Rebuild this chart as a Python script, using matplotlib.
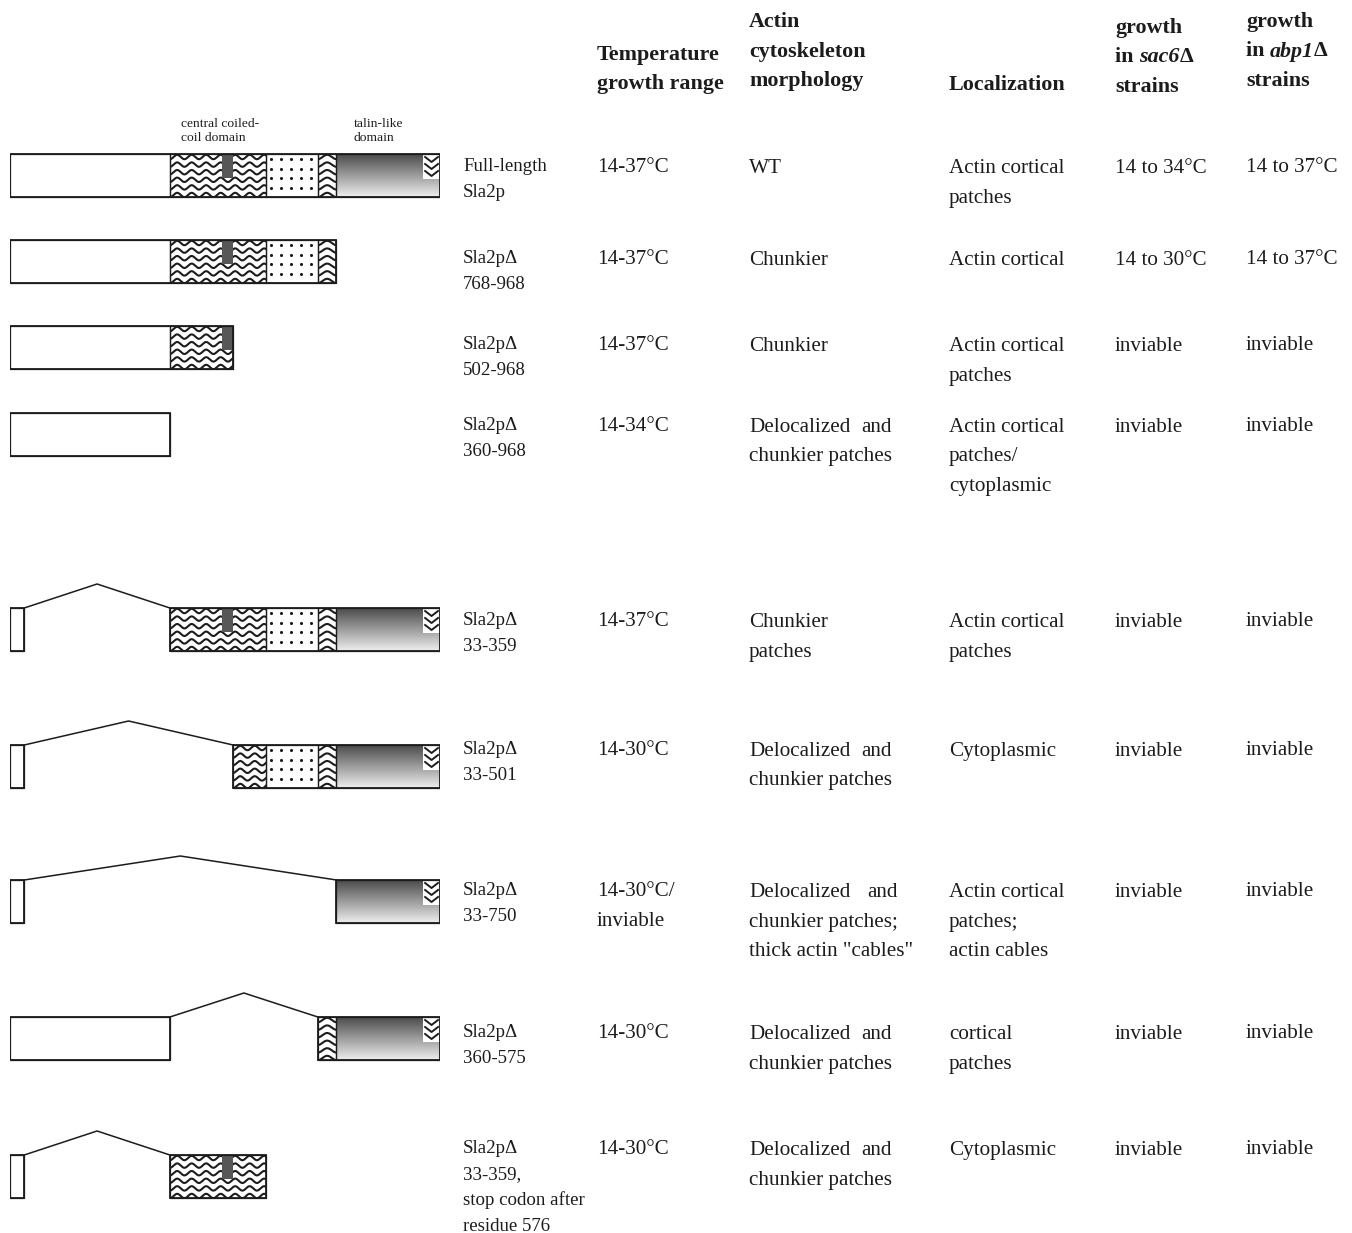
import numpy as np
import matplotlib.pyplot as plt
from matplotlib.patches import Rectangle

plt.rcParams['font.family'] = ['Liberation Serif', 'DejaVu Serif']

# Sla2p domain map, in residues
protein_length = 968
domain_starts = [0, 360, 576, 693, 735]
domain_ends = [360, 576, 693, 735, 968]
domain_kinds = ['plain', 'coil', 'dots', 'coil', 'talin']
stripe_span = [477, 502]
chevron_span = [930, 968]

# pieces kept in each construct (start, end residues as drawn)
kept_starts = [[0], [0], [0], [0], [0, 360], [0, 502], [0, 735], [0, 693], [0, 360]]
kept_ends = [[968], [735], [502], [360], [32, 968], [32, 968], [32, 968], [360, 968], [32, 576]]

construct_labels = [
    ['Full-length', 'Sla2p'],
    ['Sla2pΔ', '768-968'],
    ['Sla2pΔ', '502-968'],
    ['Sla2pΔ', '360-968'],
    ['Sla2pΔ', '33-359'],
    ['Sla2pΔ', '33-501'],
    ['Sla2pΔ', '33-750'],
    ['Sla2pΔ', '360-575'],
    ['Sla2pΔ', '33-359,', 'stop codon after', 'residue 576'],
]
temperature = [
    ['14-37°C'], ['14-37°C'], ['14-37°C'], ['14-34°C'], ['14-37°C'],
    ['14-30°C'], ['14-30°C/', 'inviable'], ['14-30°C'], ['14-30°C'],
]
morphology = [
    ['WT'],
    ['Chunkier'],
    ['Chunkier'],
    ['Delocalized and', 'chunkier patches'],
    ['Chunkier', 'patches'],
    ['Delocalized and', 'chunkier patches'],
    ['Delocalized and', 'chunkier patches;', 'thick actin "cables"'],
    ['Delocalized and', 'chunkier patches'],
    ['Delocalized and', 'chunkier patches'],
]
localization = [
    ['Actin cortical', 'patches'],
    ['Actin cortical'],
    ['Actin cortical', 'patches'],
    ['Actin cortical', 'patches/', 'cytoplasmic'],
    ['Actin cortical', 'patches'],
    ['Cytoplasmic'],
    ['Actin cortical', 'patches;', 'actin cables'],
    ['cortical', 'patches'],
    ['Cytoplasmic'],
]
growth_sac6 = ['14 to 34°C', '14 to 30°C', 'inviable', 'inviable', 'inviable',
               'inviable', 'inviable', 'inviable', 'inviable']
growth_abp1 = ['14 to 37°C', '14 to 37°C', 'inviable', 'inviable', 'inviable',
               'inviable', 'inviable', 'inviable', 'inviable']

# column headers: list of lines, each line a list of (text, style)
headers = [
    [[('Temperature', 'b')], [('growth range', 'b')]],
    [[('Actin', 'b')], [('cytoskeleton', 'b')], [('morphology', 'b')]],
    [[('Localization', 'b')]],
    [[('growth', 'b')], [('in ', 'b'), ('sac6', 'bi'), ('Δ', 'b')], [('strains', 'b')]],
    [[('growth', 'b')], [('in ', 'b'), ('abp1', 'bi'), ('Δ', 'b')], [('strains', 'b')]],
]

# layout (pixels)
W, H = 1352, 1233
diag_left, diag_width = 10, 430
row_top = [154, 240, 326, 413, 608, 745, 880, 1017, 1155]
box_h = 43
text_y = [165, 257, 343, 424, 619, 748, 889, 1031, 1147]
name_x = 463
col_x = [597, 749, 949, 1115, 1246]
header_top = [53, 20, 83, 26, 20]
line_step = 29.5
name_step = 26
ink = '#1c1c1c'

fig = plt.figure(figsize=(W / 100, H / 100), dpi=100)
ax = fig.add_axes([0, 0, 1, 1])
ax.set_xlim(0, W)
ax.set_ylim(H, 0)
ax.axis('off')

ax_d = fig.add_axes([diag_left / W, 0, diag_width / W, 1])
ax_d.set_xlim(0, protein_length)
ax_d.set_ylim(H, 0)
ax_d.axis('off')
rpp = protein_length / diag_width  # residues per pixel

gradient = np.linspace(0.30, 0.93, 60)[:, None] * np.ones((1, 8))


def draw_waves(a, b, top, clip, amp=2.2):
    width_px = (b - a) / rpp
    period = width_px if width_px < 25 else 14.5
    xs = np.linspace(a, b, 300)
    for yc in np.arange(top + 3, top + box_h + 5, 7.6):
        ys = yc + amp * np.cos(2 * np.pi * (xs - a) / (period * rpp))
        ln, = ax_d.plot(xs, ys, color=ink, lw=1.5, zorder=2)
        ln.set_clip_path(clip)


def draw_dots(a, b, top, clip):
    xs = np.arange(a + 5 * rpp, b, 10 * rpp)
    ys = np.arange(top + 5, top + box_h, 9.5)
    gx, gy = np.meshgrid(xs, ys)
    sc = ax_d.scatter(gx.ravel(), gy.ravel(), s=5, color=ink, zorder=2, linewidths=0)
    sc.set_clip_path(clip)


def draw_piece(start, end, top):
    for s, e, kind in zip(domain_starts, domain_ends, domain_kinds):
        a, b = max(s, start), min(e, end)
        if b <= a:
            continue
        clip = Rectangle((a, top), b - a, box_h, fc='white', ec='none', zorder=1)
        ax_d.add_patch(clip)
        if kind == 'coil':
            draw_waves(a, b, top, clip)
            sa, sb = max(stripe_span[0], a), min(stripe_span[1], b)
            if sb > sa:
                ax_d.add_patch(Rectangle((sa, top), sb - sa, box_h * 0.56,
                                         fc='#575757', ec='none', zorder=3))
        elif kind == 'dots':
            draw_dots(a, b, top, clip)
        elif kind == 'talin':
            im = ax_d.imshow(gradient, cmap='gray', vmin=0, vmax=1, aspect='auto',
                             extent=[a, b, top + box_h, top], origin='upper',
                             interpolation='bilinear', zorder=2)
            im.set_clip_path(clip)
            ca, cb = max(chevron_span[0], a), min(chevron_span[1], b)
            if cb > ca:
                ax_d.add_patch(Rectangle((ca, top + 1), cb - ca, 24, fc='white',
                                         ec='none', zorder=3))
                for k in range(3):
                    y0 = top + 3 + 7 * k
                    ax_d.plot([ca + 2 * rpp, (ca + cb) / 2, cb - 2 * rpp],
                              [y0, y0 + 5, y0], color=ink, lw=1.4, zorder=4)
        ax_d.add_patch(Rectangle((a, top), b - a, box_h, fill=False, ec=ink,
                                 lw=0.9, zorder=5))
    ax_d.add_patch(Rectangle((start, top), end - start, box_h, fill=False, ec=ink,
                             lw=1.3, zorder=6))


for i in range(len(kept_starts)):
    top = row_top[i]
    starts, ends = kept_starts[i], kept_ends[i]
    for s, e in zip(starts, ends):
        draw_piece(s, e, top)
    # splice line over each deleted stretch
    for e, s in zip(ends[:-1], starts[1:]):
        ax_d.plot([e, (e + s) / 2, s], [top, top - 24, top], color=ink, lw=1.1, zorder=6)
ax_d.set_xlim(0, protein_length)
ax_d.set_ylim(H, 0)

# domain captions above the full-length protein
ax.text(181, 131, 'central coiled-\ncoil domain', fontsize=9.7, color=ink,
        va='center', ha='left', linespacing=1.15)
ax.text(354, 131, 'talin-like\ndomain', fontsize=9.7, color=ink,
        va='center', ha='left', linespacing=1.15)

renderer = fig.canvas.get_renderer()
body_fs, name_fs, head_fs = 15.2, 13.6, 15.8

# headers
for x, top, lines in zip(col_x, header_top, headers):
    for j, pieces in enumerate(lines):
        cx = x
        for txt, style in pieces:
            t = ax.text(cx, top + j * line_step + 7, txt, fontsize=head_fs, color=ink,
                        fontweight='bold', fontstyle='italic' if 'i' in style else 'normal',
                        va='baseline', ha='left')
            bb = t.get_window_extent(renderer)
            cx += bb.width


def put_lines(x, y, lines, fs, step, justify=False):
    for j, line in enumerate(lines):
        yb = y + j * step + 7
        if justify and line.endswith(' and') and j + 1 < len(lines):
            probe = ax.text(x, yb, lines[j + 1], fontsize=fs, color=ink, va='baseline')
            width = probe.get_window_extent(renderer).width
            probe.remove()
            ax.text(x, yb, line[:-4], fontsize=fs, color=ink, va='baseline', ha='left')
            ax.text(x + width, yb, 'and', fontsize=fs, color=ink, va='baseline', ha='right')
        else:
            ax.text(x, yb, line, fontsize=fs, color=ink, va='baseline', ha='left')


for i in range(len(construct_labels)):
    y = text_y[i]
    put_lines(name_x, y - 1, construct_labels[i], name_fs, name_step)
    put_lines(col_x[0], y, temperature[i], body_fs, line_step)
    put_lines(col_x[1], y + 1, morphology[i], body_fs, line_step, justify=True)
    put_lines(col_x[2], y + 1, localization[i], body_fs, line_step)
    put_lines(col_x[3], y + 1, [growth_sac6[i]], body_fs, line_step)
    put_lines(col_x[4], y, [growth_abp1[i]], body_fs, line_step)

fig.savefig('out.png', dpi=100, facecolor='white')
